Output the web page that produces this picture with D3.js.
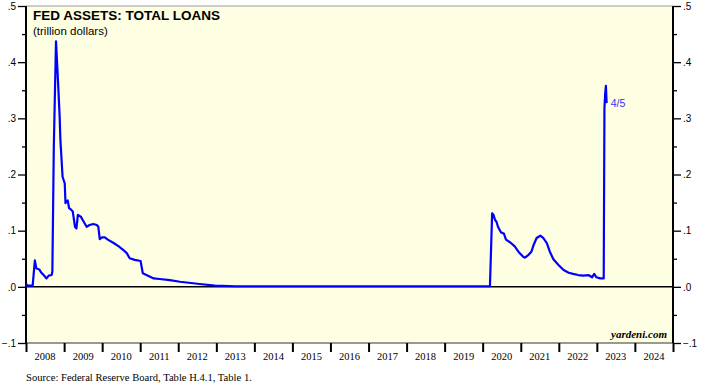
<!DOCTYPE html>
<html>
<head>
<meta charset="utf-8">
<script src="https://cdn.jsdelivr.net/npm/d3@7"></script>
<style>
  body { margin: 0; background: #fff; }
  svg { display: block; }
</style>
</head>
<body>
<div id="chart"></div>
<script>
// Fed assets: total loans, trillion dollars (weekly readings)
var dates = [
  "2008-01-02", "2008-01-16", "2008-03-05", "2008-03-26", "2008-04-09", "2008-05-07",
  "2008-05-28", "2008-06-18", "2008-07-16", "2008-08-06", "2008-09-03", "2008-09-10",
  "2008-09-24", "2008-10-15", "2008-10-29", "2008-11-19", "2008-11-26", "2008-12-17",
  "2009-01-07", "2009-01-14", "2009-02-04", "2009-02-18", "2009-03-11", "2009-03-25",
  "2009-04-15", "2009-04-29", "2009-05-13", "2009-06-10", "2009-07-08", "2009-08-05",
  "2009-09-02", "2009-10-07", "2009-11-11", "2009-11-25", "2009-12-09", "2009-12-30",
  "2010-01-27", "2010-02-24", "2010-04-21", "2010-06-09", "2010-07-21", "2010-08-25",
  "2010-09-22", "2010-11-10", "2011-01-05", "2011-01-26", "2011-03-02", "2011-05-11",
  "2011-07-06", "2011-10-12", "2012-01-18", "2012-07-25", "2012-12-19", "2013-07-03",
  "2015-01-07", "2017-01-04", "2019-01-02", "2020-03-11",
  "2020-04-01", "2020-04-15", "2020-04-29", "2020-05-13", "2020-05-27", "2020-06-24",
  "2020-07-22", "2020-08-12", "2020-09-23", "2020-11-04", "2020-12-16", "2021-01-27",
  "2021-02-10", "2021-03-17", "2021-04-14", "2021-05-05", "2021-06-02", "2021-07-07",
  "2021-08-04", "2021-09-08", "2021-10-06", "2021-11-10", "2021-12-29", "2022-02-16",
  "2022-04-06", "2022-05-18", "2022-07-06", "2022-08-24", "2022-10-12", "2022-11-16",
  "2022-12-07", "2022-12-28", "2023-02-01", "2023-03-08", "2023-03-15", "2023-03-22",
  "2023-03-29", "2023-04-05"
];
var loans = [
  0.005, 0.002, 0.002, 0.047, 0.033, 0.031,
  0.025, 0.021, 0.015, 0.020, 0.021, 0.027,
  0.250, 0.437, 0.386, 0.303, 0.262, 0.196,
  0.184, 0.149, 0.154, 0.140, 0.137, 0.134,
  0.107, 0.104, 0.128, 0.125, 0.116, 0.107,
  0.110, 0.112, 0.110, 0.107, 0.085, 0.088,
  0.088, 0.084, 0.078, 0.072, 0.066, 0.060,
  0.051, 0.048, 0.046, 0.024, 0.021, 0.015,
  0.014, 0.012, 0.009, 0.005, 0.002, 0.001,
  0.001, 0.001, 0.001, 0.001,
  0.131, 0.128, 0.119, 0.116, 0.107, 0.097,
  0.095, 0.084, 0.079, 0.072, 0.061, 0.053,
  0.052, 0.057, 0.063, 0.075, 0.087, 0.091,
  0.087, 0.078, 0.063, 0.049, 0.039, 0.030,
  0.025, 0.023, 0.021, 0.020, 0.021, 0.017,
  0.023, 0.017, 0.015, 0.015, 0.318, 0.344,
  0.358, 0.327
];
var yearLabels = d3.range(2008, 2025);
var yTicks = [-0.1, 0, 0.1, 0.2, 0.3, 0.4, 0.5];
var lastLabel = "4/5";

var svgWidth = 710;
var svgHeight = 391;
var margin = { top: 6, right: 37, bottom: 48, left: 26 };
var width = svgWidth - margin.left - margin.right;
var height = svgHeight - margin.top - margin.bottom;

var parseDate = d3.timeParse("%Y-%m-%d");
var data = dates.map(function(d, i) {
  return { date: parseDate(d), value: loans[i] };
});

var svg = d3.select("#chart")
  .append("svg")
  .attr("width", svgWidth)
  .attr("height", svgHeight);

var chartGroup = svg.append("g")
  .attr("transform", `translate(${margin.left}, ${margin.top})`);

var xScale = d3.scaleTime()
  .domain([new Date(2008, 0, 1), new Date(2025, 0, 1)])
  .range([0, width]);

var yScale = d3.scaleLinear()
  .domain([-0.1, 0.5])
  .range([height, 0]);

// plot background
chartGroup.append("rect")
  .attr("width", width)
  .attr("height", height)
  .attr("fill", "#fefee3");

// top border thin grey, bottom thin dark
chartGroup.append("line")
  .attr("x1", 0).attr("x2", width).attr("y1", 0).attr("y2", 0)
  .attr("stroke", "#999").attr("stroke-width", 1);
chartGroup.append("line")
  .attr("x1", 0).attr("x2", width).attr("y1", height).attr("y2", height)
  .attr("stroke", "#333").attr("stroke-width", 1);

// y axes (major + minor ticks)
var fmt = function(d) {
  if (Math.abs(d) < 1e-9) return ".0";
  return d3.format(".1f")(d).replace("0.", ".");
};
var minorTicks = d3.range(-0.05, 0.5, 0.1);

function yAxisSide(g, left) {
  var axis = left ? d3.axisLeft(yScale) : d3.axisRight(yScale);
  var minorAxis = left ? d3.axisLeft(yScale) : d3.axisRight(yScale);
  g.append("g")
    .call(minorAxis.tickValues(minorTicks).tickSize(4).tickFormat(""))
    .call(function(s) { s.select(".domain").remove(); });
  var major = g.append("g")
    .call(axis.tickValues(yTicks).tickSize(8).tickPadding(2).tickFormat(fmt));
  major.select(".domain").remove();
  major.selectAll("text")
    .attr("font-family", "Liberation Sans, Arial, sans-serif")
    .attr("font-size", "10px")
    .attr("fill", "#000");
  g.selectAll(".tick line").attr("stroke", "#000").attr("stroke-width", 1.3);
  g.append("line")
    .attr("x1", 0).attr("x2", 0).attr("y1", 0).attr("y2", height)
    .attr("stroke", "#000").attr("stroke-width", 2);
}

yAxisSide(chartGroup.append("g"), true);
yAxisSide(chartGroup.append("g").attr("transform", `translate(${width}, 0)`), false);

// x axis: ticks at year boundaries, labels centered in each year
var xAxisG = chartGroup.append("g")
  .attr("transform", `translate(0, ${height})`);
xAxisG.call(d3.axisBottom(xScale)
    .ticks(d3.timeYear.every(1))
    .tickSize(9)
    .tickFormat(""))
  .select(".domain").remove();
xAxisG.selectAll(".tick line").attr("stroke", "#000").attr("stroke-width", 2);

xAxisG.selectAll(".year-label")
  .data(yearLabels)
  .enter()
  .append("text")
  .attr("class", "year-label")
  .attr("x", function(d) { return (xScale(new Date(d, 0, 1)) + xScale(new Date(d + 1, 0, 1))) / 2; })
  .attr("y", 17)
  .attr("text-anchor", "middle")
  .attr("font-family", "Liberation Serif, Times New Roman, serif")
  .attr("font-size", "10.5px")
  .attr("fill", "#000")
  .text(function(d) { return d; });

// zero line
chartGroup.append("line")
  .attr("x1", 0).attr("x2", width)
  .attr("y1", yScale(0)).attr("y2", yScale(0))
  .attr("stroke", "#000").attr("stroke-width", 1.5);

// the series
var line = d3.line()
  .x(function(d) { return xScale(d.date); })
  .y(function(d) { return yScale(d.value); });

chartGroup.append("path")
  .datum(data)
  .attr("d", line)
  .attr("fill", "none")
  .attr("stroke", "#0000ff")
  .attr("stroke-width", 2.2)
  .attr("stroke-linejoin", "round");

var last = data[data.length - 1];
chartGroup.append("text")
  .attr("x", xScale(last.date) + 4)
  .attr("y", yScale(last.value) + 4)
  .attr("font-family", "Liberation Sans, Arial, sans-serif")
  .attr("font-size", "10.5px")
  .attr("fill", "#3333ff")
  .text(lastLabel);

// titles
chartGroup.append("text")
  .attr("x", 7)
  .attr("y", 14)
  .attr("font-family", "Liberation Sans, Arial, sans-serif")
  .attr("font-weight", "bold")
  .attr("font-size", "13.5px")
  .attr("fill", "#000")
  .text("FED ASSETS: TOTAL LOANS");

chartGroup.append("text")
  .attr("x", 7)
  .attr("y", 29)
  .attr("font-family", "Liberation Sans, Arial, sans-serif")
  .attr("font-size", "11.5px")
  .attr("fill", "#000")
  .text("(trillion dollars)");

chartGroup.append("text")
  .attr("x", width - 6)
  .attr("y", height - 5)
  .attr("text-anchor", "end")
  .attr("font-family", "Liberation Serif, Times New Roman, serif")
  .attr("font-weight", "bold")
  .attr("font-style", "italic")
  .attr("font-size", "11px")
  .attr("fill", "#000")
  .text("yardeni.com");

svg.append("text")
  .attr("x", 26)
  .attr("y", 381)
  .attr("font-family", "Liberation Serif, Times New Roman, serif")
  .attr("font-size", "10.6px")
  .attr("fill", "#000")
  .text("Source: Federal Reserve Board, Table H.4.1, Table 1.");
</script>
</body>
</html>
